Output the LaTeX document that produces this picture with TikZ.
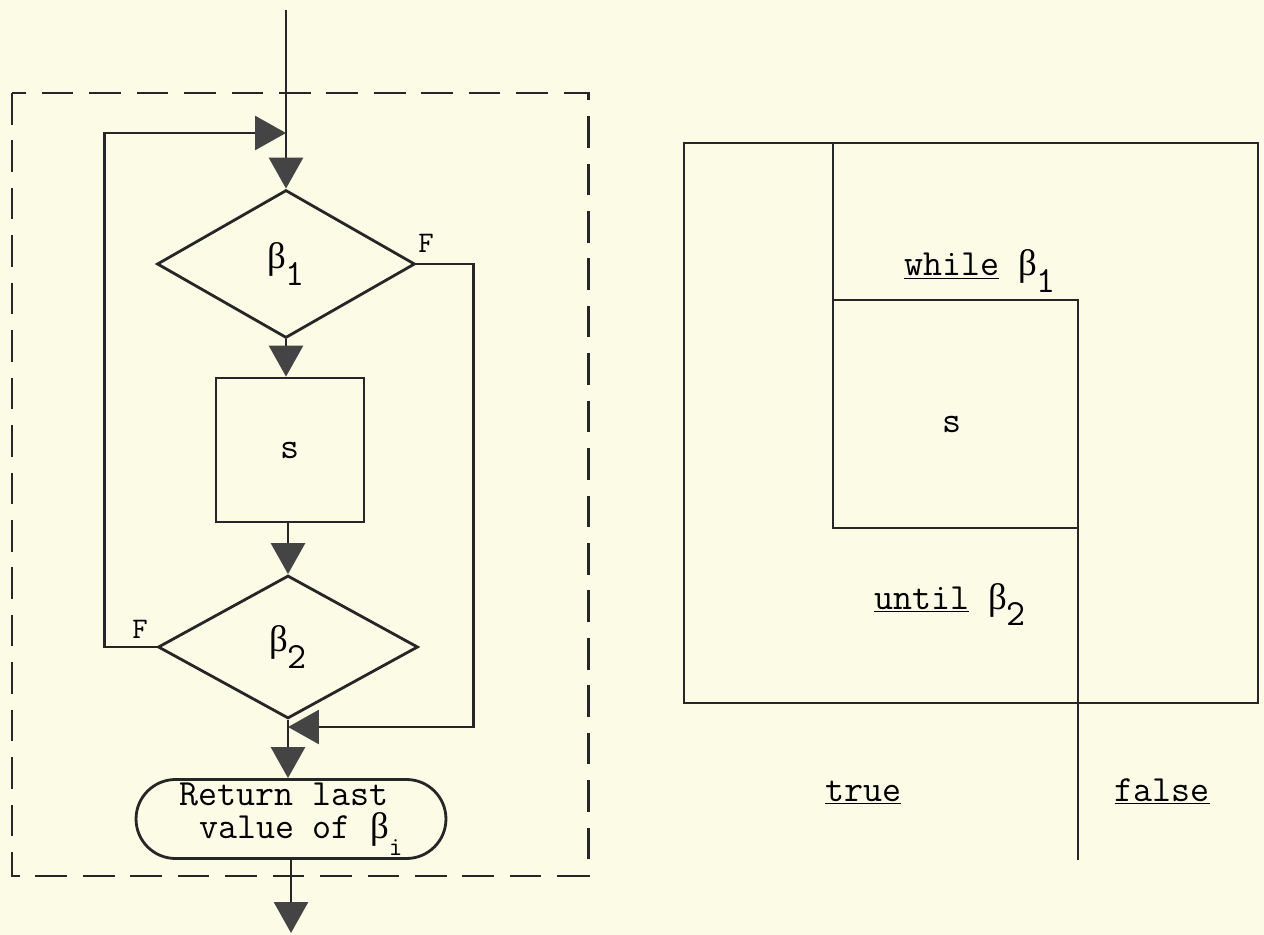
\documentclass[tikz,border=0pt]{standalone}
\usepackage{fontspec}
\setmainfont{Liberation Serif}
\newfontfamily\grk{Liberation Serif}
\usetikzlibrary{arrows.meta,shapes.geometric,shapes.misc}
\definecolor{paper}{RGB}{251,251,230}
\definecolor{ink}{RGB}{38,38,38}
\definecolor{headgray}{RGB}{68,68,68}
\newcommand{\lowsub}[1]{\raisebox{-0.45em}{#1}}
\newcommand{\bt}{{\grk β}}
\newcommand{\tw}{\ttfamily\fontsize{21}{19}\selectfont}
\tikzset{
  ln/.style={draw=ink, line width=1.6pt},
  arr/.style={ln, -{Triangle[length=0.62cm,width=0.68cm,color=headgray]}},
  dia/.style={ln, diamond, inner sep=0pt, font=\tw},
  proc/.style={ln, rectangle, inner sep=0pt, font=\tw},
  term/.style={ln, rounded rectangle, inner sep=0pt, align=left, font=\tw},
  txt/.style={inner sep=0pt, font=\tw},
  flab/.style={inner sep=0pt, font=\ttfamily\fontsize{17}{17}\selectfont},
  framebox/.style={draw=ink, line width=1.7pt, dash pattern=on 18pt off 9pt}
}
\begin{document}
\begin{tikzpicture}[x=0.02cm,y=-0.02cm]
\fill[paper] (0,0) rectangle (1264,935);
\useasboundingbox (0,0) rectangle (1264,935);

% ---------- left flowchart ----------
\draw[framebox] (12,93) rectangle (588,876);

\coordinate (top) at (286,10);
\coordinate (loopin) at (286,133);
\coordinate (join) at (288,727);
\coordinate (out) at (291,933);

\node[dia, minimum width=5.16cm, minimum height=2.96cm] (d1) at (286,264) {\bt\lowsub{1}};
\node[proc, minimum width=2.96cm, minimum height=2.88cm] (s1) at (290,450) {s};
\node[dia, minimum width=5.2cm, minimum height=2.86cm] (d2) at (288,647) {\bt\lowsub{2}};
\node[term, minimum width=6.2cm, minimum height=1.58cm] (ret) at (291,819)
  {Return last\\\hspace*{0.525em}value of \bt\lowsub{\fontsize{15}{15}\selectfont i}};

\node[flab, anchor=base] (f1) at (426,253) {F};
\node[flab, anchor=base] (f2) at (140,638) {F};

\draw[arr] (top) -- (d1.north);
\draw[arr] (d2.west) -- ++(-52,0) |- (loopin);
\draw[arr] (d1.east) -- ++(57,0) |- (join);
\draw[arr] (d1.south) -- (d1.south |- s1.north);
\draw[arr] (s1.south -| d2.north) -- (d2.north);
\draw[arr] (d2.south) -- (d2.south |- ret.north);
\draw[arr] (ret.south -| out) -- (out);

% ---------- right structogram ----------
\draw[ln] (684,143) rectangle (1258,703);
\coordinate (c1) at (833,143);
\coordinate (c2) at (833,528);
\coordinate (c3) at (1078,528);
\coordinate (c4) at (833,300);
\coordinate (c5) at (1078,300);
\coordinate (c6) at (1078,860);
\draw[ln] (c1) -- (c2) -- (c3);
\draw[ln] (c4) -- (c5) -- (c6);

\node[txt, anchor=base] (wl) at (980,276) {\underline{while} \bt\lowsub{1}};
\node[txt, anchor=base] (s2) at (952,433) {s};
\node[txt, anchor=base] (ul) at (950,609) {\underline{until} \bt\lowsub{2}};
\node[txt, anchor=base] (tr) at (863,801) {\underline{true}};
\node[txt, anchor=base] (fa) at (1162,801) {\underline{false}};
\end{tikzpicture}
\end{document}
